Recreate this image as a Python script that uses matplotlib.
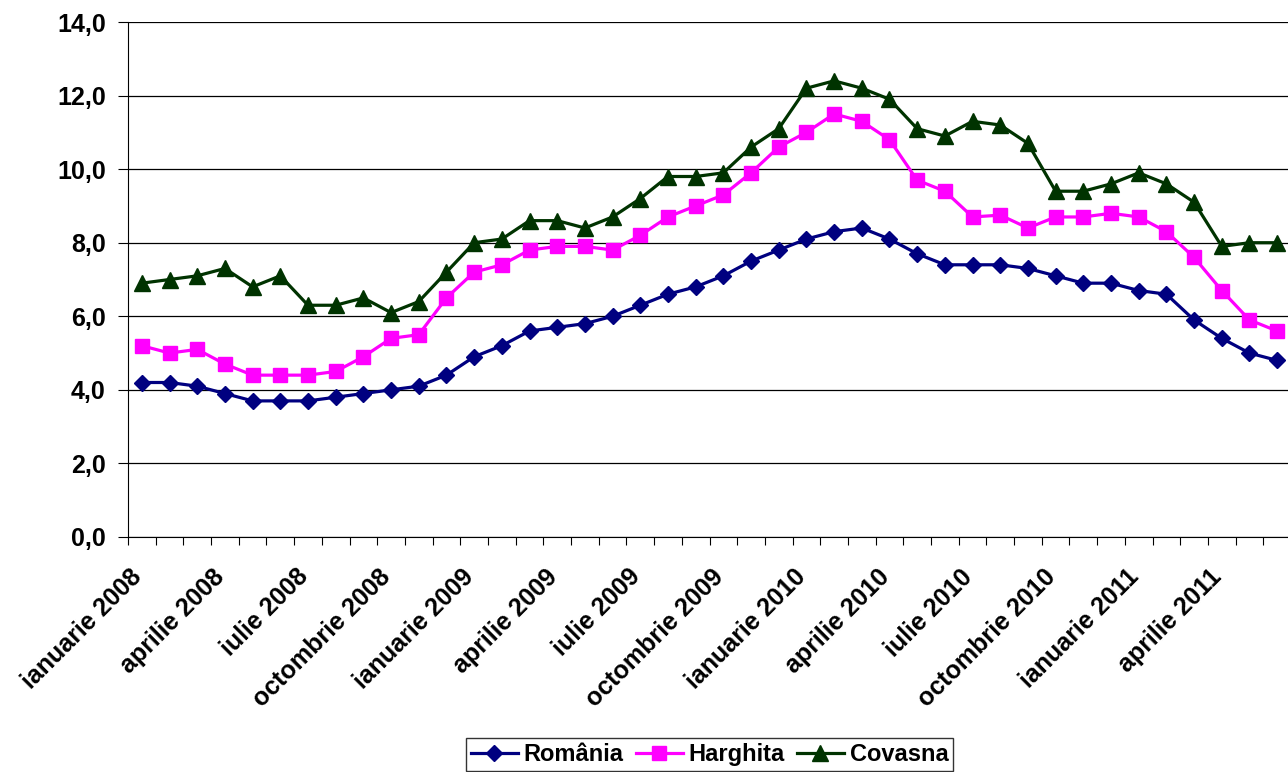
import matplotlib.pyplot as plt

luni = ['ianuarie', 'februarie', 'martie', 'aprilie', 'mai', 'iunie', 'iulie',
        'august', 'septembrie', 'octombrie', 'noiembrie', 'decembrie']
perioade = [f'{luni[i % 12]} {2008 + i // 12}' for i in range(42)]

romania = [4.2, 4.2, 4.1, 3.9, 3.7, 3.7, 3.7, 3.8, 3.9, 4.0, 4.1, 4.4,
           4.9, 5.2, 5.6, 5.7, 5.8, 6.0, 6.3, 6.6, 6.8, 7.1, 7.5, 7.8,
           8.1, 8.3, 8.4, 8.1, 7.7, 7.4, 7.4, 7.4, 7.3, 7.1, 6.9, 6.9,
           6.7, 6.6, 5.9, 5.4, 5.0, 4.8]
harghita = [5.2, 5.0, 5.1, 4.7, 4.4, 4.4, 4.4, 4.5, 4.9, 5.4, 5.5, 6.5,
            7.2, 7.4, 7.8, 7.9, 7.9, 7.8, 8.2, 8.7, 9.0, 9.3, 9.9, 10.6,
            11.0, 11.5, 11.3, 10.8, 9.7, 9.4, 8.7, 8.75, 8.4, 8.7, 8.7, 8.8,
            8.7, 8.3, 7.6, 6.7, 5.9, 5.6]
covasna = [6.9, 7.0, 7.1, 7.3, 6.8, 7.1, 6.3, 6.3, 6.5, 6.1, 6.4, 7.2,
           8.0, 8.1, 8.6, 8.6, 8.4, 8.7, 9.2, 9.8, 9.8, 9.9, 10.6, 11.1,
           12.2, 12.4, 12.2, 11.9, 11.1, 10.9, 11.3, 11.2, 10.7, 9.4, 9.4, 9.6,
           9.9, 9.6, 9.1, 7.9, 8.0, 8.0]

plt.rcParams['font.family'] = ['Liberation Sans', 'DejaVu Sans']
plt.rcParams['font.weight'] = 'bold'
fs = 18

fig = plt.figure(figsize=(12.88, 7.72), dpi=100)
ax = fig.add_axes([128 / 1288, 1 - 537 / 772, 1163 / 1288, 515 / 772])

x = list(range(len(perioade)))
ax.plot(x, romania, color='#000080', lw=2.3, marker='D', ms=8, label='România')
ax.plot(x, harghita, color='#FF00FF', lw=2.3, marker='s', ms=10, label='Harghita')
ax.plot(x, covasna, color='#003300', lw=2.3, marker='^', ms=11, label='Covasna')

ax.set_xlim(-0.5, len(perioade) - 0.5)
ax.set_ylim(0, 14)
ax.set_yticks(range(0, 15, 2))
ax.set_yticklabels([f'{v:.1f}'.replace('.', ',') for v in range(0, 15, 2)], fontsize=fs, fontweight='bold')
ax.yaxis.grid(True, color='black', lw=0.9)
ax.set_axisbelow(True)

ax.set_xticks([i - 0.5 for i in range(len(perioade) + 1)])
ax.set_xticklabels([])
ax.tick_params(axis='x', length=6, direction='out', color='black')
ax.tick_params(axis='y', length=7, direction='out', color='black', pad=9)
for i in range(0, len(perioade), 3):
    ax.text(i - 0.45, -0.75, perioade[i], rotation=45, ha='right', va='top',
            rotation_mode='anchor', fontsize=fs, fontweight='bold')

for s in ['top', 'right']:
    ax.spines[s].set_visible(False)
ax.spines['left'].set_color('black')
ax.spines['bottom'].set_color('black')

leg = fig.legend(loc='upper center', bbox_to_anchor=(0.551, 0.05), ncol=3,
                 frameon=True, fancybox=False, edgecolor='black', fontsize=17,
                 handlelength=2.0, handletextpad=0.25, columnspacing=0.5,
                 borderpad=0.2, borderaxespad=0.2)
leg.get_frame().set_linewidth(1.0)

fig.savefig('out.png', dpi=100)
